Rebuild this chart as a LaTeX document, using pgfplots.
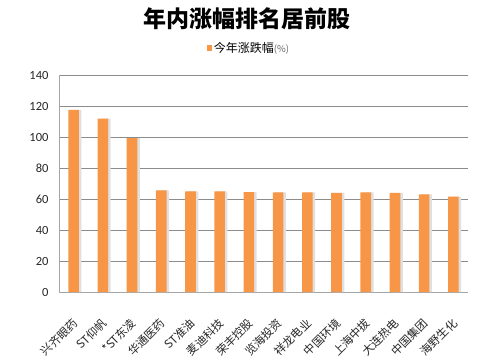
\documentclass[border=0pt]{standalone}
\usepackage{pgfplots}
\pgfplotsset{compat=1.18}
\usepackage{fontspec}
\setmainfont{Carlito}
\newfontfamily\cjk{Noto Sans CJK SC}
\definecolor{barorange}{HTML}{F79646}
\definecolor{gridgray}{HTML}{8C8C8C}
\definecolor{axgray}{HTML}{A6A6A6}
\begin{document}
\begin{tikzpicture}[x=1pt,y=1pt]
\useasboundingbox (0,0) rectangle (500,362);
\node[font=\cjk\bfseries\fontsize{23}{23}\selectfont, inner sep=0pt] at (247,343) {年内涨幅排名居前股};
\begin{axis}[
  at={(59pt,70pt)}, anchor=south west,
  scale only axis, width=409pt, height=217pt,
  xmin=-0.5, xmax=13.5, ymin=0, ymax=140,
  ybar, bar width=10.6pt,
  ytick={0,20,...,140},
  ymajorgrids, grid style={gridgray, line width=0.7pt},
  axis x line*=bottom, axis y line*=left,
  axis line style={axgray, line width=0.9pt},
  xtick={0,...,13},
  xticklabels={兴齐眼药,ST仰帆,*ST东凌,华通医药,ST准油,麦迪科技,荣丰控股,览海投资,祥龙电业,中国环境,上海中拔,大连热电,中国集团,海野生化},
  minor xtick={-0.5,0.5,...,13.5},
  tick align=outside,
  major tick length=0pt,
  minor tick length=5pt,
  minor tick style={axgray, line width=0.8pt},
  xtick style={draw=none},
  ytick style={draw=none},
  xticklabel style={xshift=-2pt, yshift=-25pt, rotate=45, anchor=north east, inner sep=0pt, font=\cjk\fontsize{11.5}{11.5}\selectfont, text=black!85},
  yticklabel style={font=\fontsize{12.5}{12.5}\selectfont, xshift=-7pt, text=black!85},
  /pgf/number format/assume math mode=true,
  legend style={at={(0.4645,1.124)}, anchor=center, draw=none, fill=none, font=\cjk\fontsize{12}{12}\selectfont, inner sep=0pt},
  legend image code/.code={\fill[barorange] (0pt,-2.6pt) rectangle (5.2pt,2.6pt);},
]
\addplot[fill=black!12, draw=none, bar shift=2.5pt, forget plot] coordinates {
(0,117.5) (1,111.8) (2,99.2) (3,65.5) (4,65) (5,65) (6,64.5) (7,64.3) (8,64.3) (9,64) (10,64.2) (11,64) (12,63) (13,61.5)};
\addplot[fill=barorange, draw=none, bar shift=0pt] coordinates {
(0,117.5) (1,111.8) (2,99.2) (3,65.5) (4,65) (5,65) (6,64.5) (7,64.3) (8,64.3) (9,64) (10,64.2) (11,64) (12,63) (13,61.5)};
\addlegendentry{今年涨跌幅{\color{black!60}\fontsize{9.5}{9.5}\selectfont(\%)}}
\end{axis}
\end{tikzpicture}
\end{document}
